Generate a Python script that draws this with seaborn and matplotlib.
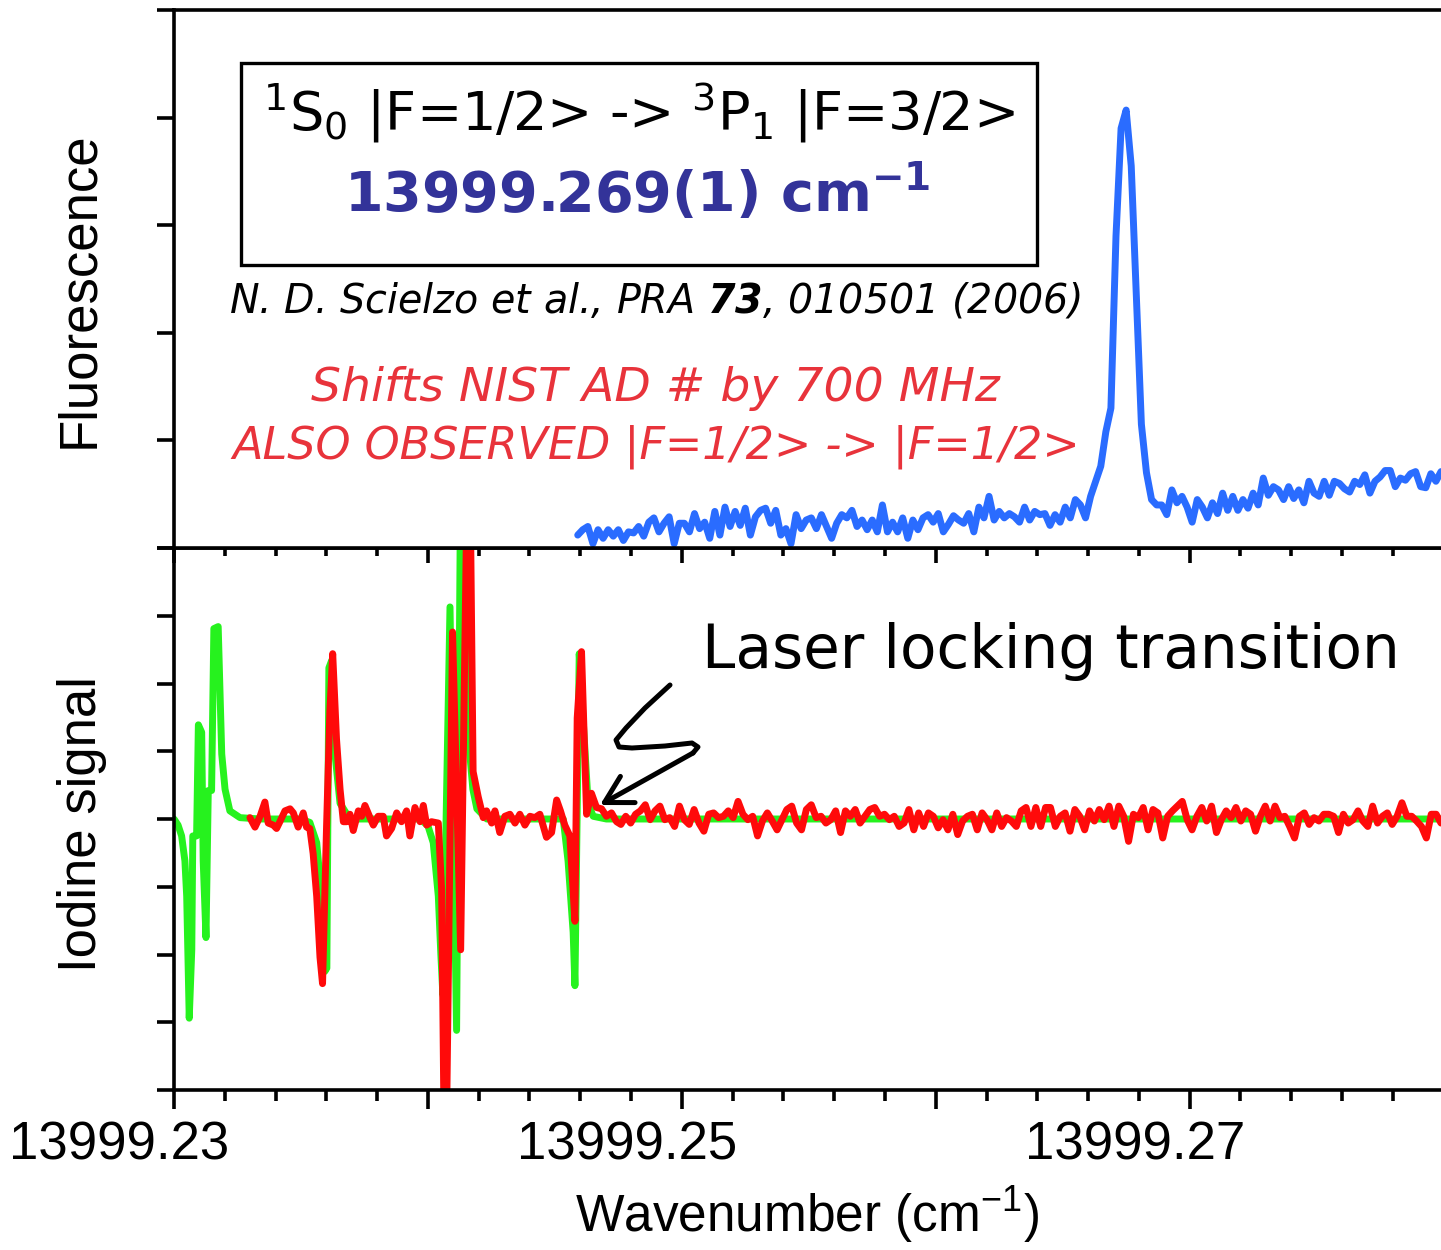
import numpy as np
import pandas as pd
import matplotlib
matplotlib.use("Agg")
import matplotlib.pyplot as plt
import seaborn as sns
from matplotlib.ticker import FixedLocator, FixedFormatter
from matplotlib.transforms import ScaledTranslation
from matplotlib.patches import Rectangle, FancyArrowPatch

sns.set_theme(style="white")
plt.rcParams['font.family'] = ['Liberation Sans', 'DejaVu Sans']
plt.rcParams['mathtext.fontset'] = 'custom'
plt.rcParams['mathtext.bfit'] = 'DejaVu Sans:italic:bold'

# ---------------------------------------------------------------- data
ORIGIN = 13999.23          # cm^-1
UNIT = 1e-4                # offsets below are in 1e-4 cm^-1

# Fluorescence scan (arb. units), uniform sampling between start and stop
fluor_start = 13999.2459
fluor_stop = 13999.2799
fluor_y = [
    0.12, 0.17, 0.20, 0.04, 0.17, 0.09, 0.17, 0.11, 0.17, 0.07,
    0.15, 0.14, 0.20, 0.11, 0.24, 0.28, 0.15, 0.23, 0.29, 0.04,
    0.23, 0.23, 0.15, 0.32, 0.18, 0.24, 0.09, 0.34, 0.12, 0.38,
    0.20, 0.34, 0.21, 0.37, 0.12, 0.29, 0.35, 0.37, 0.23, 0.35,
    0.12, 0.18, 0.04, 0.31, 0.18, 0.26, 0.28, 0.18, 0.31, 0.20,
    0.09, 0.23, 0.31, 0.28, 0.35, 0.20, 0.26, 0.17,
    0.26, 0.15, 0.40, 0.15, 0.24, 0.15, 0.28, 0.09, 0.26, 0.17,
    0.28, 0.31, 0.24, 0.32, 0.15, 0.22, 0.30, 0.26, 0.23, 0.32,
    0.15, 0.38, 0.28, 0.48, 0.26, 0.34, 0.28, 0.32, 0.29, 0.24,
    0.38, 0.26, 0.34, 0.31, 0.32, 0.21, 0.31, 0.24, 0.38, 0.28,
    0.45, 0.40, 0.28, 0.48,
    0.62, 0.76, 1.08, 1.30, 2.90, 3.90, 4.07, 3.55, 2.35, 1.15,
    0.70, 0.45, 0.40,
    0.40, 0.31, 0.54, 0.42, 0.48, 0.38, 0.24, 0.45, 0.38, 0.28,
    0.42, 0.32, 0.51, 0.35, 0.48, 0.35, 0.45, 0.37, 0.51, 0.40,
    0.65, 0.49, 0.57, 0.54, 0.45, 0.57, 0.46, 0.54, 0.42, 0.62,
    0.51, 0.48, 0.62, 0.49, 0.62, 0.60, 0.55, 0.52, 0.62, 0.59,
    0.68, 0.51, 0.62, 0.66, 0.72, 0.72, 0.57, 0.65, 0.63, 0.69,
    0.71, 0.57, 0.56, 0.69, 0.62, 0.71,
]

# Iodine reference spectrum (green)
green_dx = [
    0, 1.6, 3.0, 4.3, 5.0, 6.0, 7.0, 7.4, 8.9, 9.6,
    10.9, 11.5, 12.6, 13.5, 14.8, 15.7, 17.4, 18.8, 20.1, 22.0,
    26.0, 33.9, 49.6, 53.5, 56.2, 58.1, 59.4, 60.2, 61.0, 62.1,
    63.4, 65.4, 69.3, 96.9, 100.0, 102.1, 104.1, 105.1, 105.9, 108.7,
    111.3, 112.8, 113.8, 116.5, 117.7, 119.3, 123.2, 153.3, 155.2, 157.2,
    157.9, 159.6, 161.1, 163.1, 165.1, 170.3, 300.0, 499.0,
]
green_y = [
    0.00, -0.09, -0.25, -0.62, -1.14, -2.94, -1.93, -0.25, -0.25, 1.39,
    1.28, -0.62, -1.75, 0.42, 0.42, 2.81, 2.84, 0.96, 0.44, 0.12,
    0.02, 0.00, 0.00, -0.05, -0.35, -1.14, -2.25, -2.20, 2.23, 2.34,
    0.96, 0.23, 0.00, 0.00, -0.10, -0.35, -1.14, -2.00, -2.60, 3.13,
    -3.12, 4.60, 4.60, 0.96, 0.44, 0.15, 0.00, 0.00, -0.62, -1.67,
    -2.46, 2.44, 1.49, 0.23, 0.04, 0.00, 0.00, 0.00,
]

# Iodine signal during the scan (red): resolved lines
red_dx = [
    29.9, 31.9, 33.9, 35.8, 37.1, 39.1, 40.4, 41.7, 43.7, 45.7,
    47.0, 48.9, 50.9, 52.2, 53.5, 54.8, 56.2, 57.5, 58.5, 60.1,
    61.4, 62.5, 64.0, 65.4, 66.7, 68.0, 69.3, 70.6, 72.6, 73.9,
    75.2, 77.2, 78.5, 80.4, 82.4, 83.7, 85.7, 87.7, 89.6, 91.6,
    92.9, 94.9, 96.9, 98.2, 99.5, 101.4, 104.1, 105.4, 106.3, 107.4,
    109.7, 112.9, 115.2, 116.8, 117.8, 119.8, 121.8, 123.1, 125.1, 126.4,
    128.3, 130.3, 132.3, 134.3, 136.2, 138.2, 140.2, 142.1, 144.1, 146.7,
    148.7, 150.7, 152.2, 153.9, 155.9, 157.9, 158.8, 160.5, 162.5, 164.4,
    166.4, 168.4, 170.3, 172.3, 174.3,
]
red_y = [
    0.02, -0.12, 0.04, 0.25, -0.06, -0.09, -0.14, -0.04, 0.12, 0.15,
    0.09, -0.12, 0.09, -0.12, -0.14, -0.51, -1.14, -2.04, -2.43, -0.09,
    1.60, 2.44, 1.18, 0.44, -0.04, -0.04, 0.07, -0.17, 0.12, 0.04,
    0.20, 0.02, -0.09, 0.04, 0.04, -0.25, -0.14, 0.09, -0.04, 0.12,
    -0.25, 0.17, -0.04, 0.20, -0.09, -0.04, -0.06, -1.04, -4.30, -4.30,
    2.76, -1.93, 4.30, 4.30, 0.70, 0.33, 0.02, 0.12, -0.06, 0.12,
    -0.20, 0.04, 0.07, -0.06, 0.07, -0.09, 0.04, 0.02, 0.07, -0.27,
    -0.20, 0.28, 0.12, -0.09, -0.25, -1.51, 1.49, 2.47, 0.07, 0.38,
    0.17, 0.15, 0.04, 0.09, -0.04,
]

# Iodine signal (red): flat part of the scan, uniform sampling
red_tail_start = 13999.2476
red_tail_stop = 13999.2799
red_tail_y = [
    -0.08, 0.04, -0.06, 0.07, 0.12, 0.21, -0.01, 0.12, 0.19, -0.01,
    0.02, -0.11, 0.19, -0.01, -0.08, 0.14, -0.06, -0.18, 0.07, 0.09,
    0.02, 0.04, 0.12, 0.02, 0.26, 0.07, -0.01, 0.04, -0.25, -0.03,
    0.09, -0.03, -0.16, -0.01, 0.14, 0.19, -0.06, -0.16, 0.14, 0.21,
    0.02, 0.04, -0.06, -0.01, 0.12, -0.20, 0.12, 0.04, 0.14, -0.06,
    0.04, 0.14, 0.17, 0.04, 0.07, -0.01, 0.04, -0.11, -0.06, 0.14,
    -0.16, 0.09, -0.11, 0.09, 0.04, -0.13, -0.01, -0.16, 0.07, -0.23,
    -0.03, 0.04, 0.07, -0.16, 0.09, -0.01, -0.16, 0.09, -0.11,
    0.02, -0.03, -0.11, 0.12, 0.17, -0.11, 0.17, -0.11, 0.17, 0.17,
    -0.11, 0.04, 0.09, -0.18, 0.14, 0.04, -0.16, 0.12, -0.03, 0.14,
    -0.01, 0.19, -0.11, 0.19, 0.04, -0.33, 0.07, 0.02, 0.17, -0.16,
    0.14, 0.09, -0.28, 0.04, 0.12, 0.19, 0.26, -0.01, -0.16, 0.04,
    0.17, -0.03, 0.19, -0.20, -0.01, 0.12, 0.02, 0.17, -0.03, 0.12,
    0.07, -0.18, 0.04, 0.19, -0.03, 0.19, 0.02, 0.04, -0.11, -0.28,
    0.04, 0.09, -0.08, 0.02, -0.03, 0.07, 0.07, 0.04, -0.20, 0.07,
    -0.06, -0.01, 0.12, -0.03, -0.11, 0.19, -0.06, 0.04, 0.09, -0.08,
    0.04, 0.24, 0.04, 0.04, -0.03, -0.11, -0.28, 0.07, 0.07, -0.06,
]

x_major = [13999.23, 13999.24, 13999.25, 13999.26, 13999.27]
x_major_labels = ["13999.23", "", "13999.25", "", "13999.27"]

# ---------------------------------------------------------------- frames
fluor = pd.DataFrame({
    "wn": np.linspace(fluor_start, fluor_stop, len(fluor_y)),
    "signal": fluor_y,
})
green = pd.DataFrame({"wn": ORIGIN + np.array(green_dx) * UNIT, "signal": green_y})
red = pd.concat([
    pd.DataFrame({"wn": ORIGIN + np.array(red_dx) * UNIT, "signal": red_y}),
    pd.DataFrame({"wn": np.linspace(red_tail_start, red_tail_stop, len(red_tail_y)),
                  "signal": red_tail_y}),
], ignore_index=True)

# ---------------------------------------------------------------- figure
W, H = 1441, 1250
fig = plt.figure(figsize=(W / 100, H / 100), dpi=100)
fig.patch.set_facecolor("white")

left = 174 / W
ax1 = fig.add_axes([left, 1 - 548 / H, 1 - left, (548 - 10) / H])
ax2 = fig.add_axes([left, 1 - 1090 / H, 1 - left, (1090 - 548) / H])
ax1.set_zorder(3)

XMIN, XMAX = 13999.23, 13999.2799
LW = 5.0
line_kw = dict(estimator=None, sort=False, legend=False)

for data, ax, col in ((fluor, ax1, "#2A6CFF"), (green, ax2, "#26F21E"),
                      (red, ax2, "#FF0A0A")):
    sns.lineplot(data=data, x="wn", y="signal", ax=ax, color=col, **line_kw)
    ln = ax.get_lines()[-1]
    ln.set_linewidth(LW)
    ln.set_solid_joinstyle("round")
    ln.set_solid_capstyle("round")

SPINE = 2.6
minor_pos = [XMIN + 0.002 * k for k in range(25)]

for ax in (ax1, ax2):
    ax.set_xlim(XMIN, XMAX)
    ax.set_facecolor("white")
    ax.spines["right"].set_visible(False)
    for s in ("left", "top", "bottom"):
        ax.spines[s].set_visible(True)
        ax.spines[s].set_color("black")
        ax.spines[s].set_linewidth(SPINE)
    ax.set_xlabel("")
    ax.set_ylabel("")

# upper panel
ax1.set_ylim(0, 5)
ax1.yaxis.set_major_locator(FixedLocator([0, 1, 2, 3, 4, 5]))
ax1.tick_params(axis="y", which="major", direction="out", length=12.5,
                width=SPINE, color="black", left=True, labelleft=False)
ax1.xaxis.set_major_locator(FixedLocator(x_major))
ax1.xaxis.set_minor_locator(FixedLocator(minor_pos))
ax1.tick_params(axis="x", which="major", direction="out", length=11,
                width=SPINE, color="black", bottom=True, top=False, labelbottom=False)
ax1.tick_params(axis="x", which="minor", direction="out", length=5.5,
                width=SPINE, color="black", bottom=True, top=False)
ax1.set_ylabel("Fluorescence", fontsize=38, color="black")
ax1.yaxis.set_label_coords(-0.055, 0.48)

# lower panel
ax2.set_ylim(-4, 4)
ax2.yaxis.set_major_locator(FixedLocator(list(range(-4, 5))))
ax2.tick_params(axis="y", which="major", direction="out", length=12.5,
                width=SPINE, color="black", left=True, labelleft=False)
ax2.xaxis.set_major_locator(FixedLocator(x_major))
ax2.xaxis.set_major_formatter(FixedFormatter(x_major_labels))
ax2.xaxis.set_minor_locator(FixedLocator(minor_pos))
ax2.tick_params(axis="x", which="major", direction="out", length=14,
                width=SPINE, color="black", bottom=True, top=False,
                labelsize=38, pad=8, labelcolor="black")
ax2.tick_params(axis="x", which="minor", direction="out", length=8,
                width=SPINE, color="black", bottom=True, top=False)
ax2.set_ylabel("Iodine signal", fontsize=38, color="black")
ax2.yaxis.set_label_coords(-0.053, 0.49)
ax2.set_xlabel("Wavenumber (cm$\\mathregular{^{-1}}$)", fontsize=37, color="black")
ax2.xaxis.set_label_coords(0.5, -0.175)

shift = ScaledTranslation(-55 / 100, 0, fig.dpi_scale_trans)
for lab in ax2.get_xticklabels():
    lab.set_transform(lab.get_transform() + shift)

# ---------------------------------------------------------------- annotations
def fx(px):
    return px / W


def fy(py):
    return 1 - py / H


fig.patches.append(Rectangle((fx(241), fy(265)), fx(1037) - fx(241), fy(63) - fy(265),
                             transform=fig.transFigure, fill=False,
                             edgecolor="black", linewidth=2.4, zorder=5))

comic = ["DejaVu Sans"]
fig.text(fx(639), fy(113),
         "$\\mathregular{^1}$S$\\mathregular{_0}$ |F=1/2> -> "
         "$\\mathregular{^3}$P$\\mathregular{_1}$ |F=3/2>",
         fontsize=39, family=comic, color="black", ha="center", va="center", zorder=6)
fig.text(fx(637), fy(192), "13999.269(1) cm$\\mathregular{^{-1}}$",
         fontsize=40, family=comic, fontweight="bold", color="#333399",
         ha="center", va="center", zorder=6)
fig.text(fx(655), fy(301),
         "N. D. Scielzo et al., PRA $\\mathbfit{73}$, 010501 (2006)",
         fontsize=28.5, family=comic, style="italic", color="black",
         ha="center", va="center", zorder=6)
fig.text(fx(655), fy(389), "Shifts NIST AD # by 700 MHz",
         fontsize=34, family=comic, style="italic", color="#E8333B",
         ha="center", va="center", zorder=6)
fig.text(fx(656), fy(447), "ALSO OBSERVED |F=1/2> -> |F=1/2>",
         fontsize=32, family=comic, style="italic", color="#E8333B",
         ha="center", va="center", zorder=6)
fig.text(fx(1051), fy(652), "Laser locking transition",
         fontsize=43, family=comic, color="black",
         ha="center", va="center", zorder=6)

# zig-zag pointer to the locking line
zig_px = [(670, 685), (645, 708), (626, 728), (616, 740), (619, 747),
          (632, 748), (665, 746), (692, 743), (698, 747), (693, 753)]
fig.add_artist(plt.Line2D([fx(p[0]) for p in zig_px], [fy(p[1]) for p in zig_px],
                          transform=fig.transFigure, color="black", linewidth=3.6,
                          solid_joinstyle="round", solid_capstyle="round", zorder=6))
fig.add_artist(FancyArrowPatch(
    (fx(693), fy(753)), (fx(600), fy(805)), transform=fig.transFigure,
    arrowstyle="->,head_length=0.8,head_width=0.45", mutation_scale=24,
    color="black", linewidth=3.6, shrinkA=0, shrinkB=0,
    capstyle="round", joinstyle="round", zorder=6))

fig.savefig("out.png", dpi=100, facecolor="white")
